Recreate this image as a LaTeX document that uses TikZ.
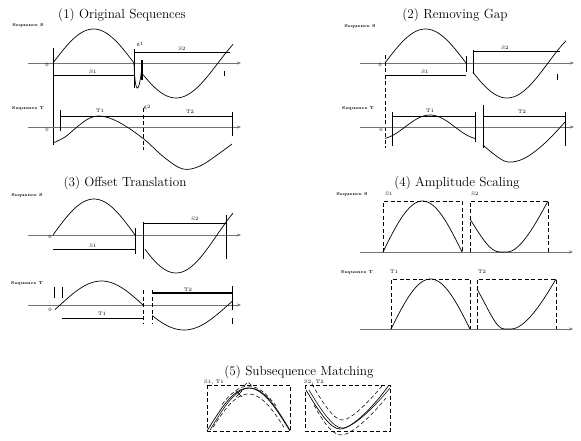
\documentclass[tikz,border=0pt]{standalone}
\usetikzlibrary{arrows.meta}
\begin{document}
\begin{tikzpicture}[x=1pt,y=-1pt,
 ax/.style={draw=black!55,line width=0.8pt,-{Stealth[length=4pt,width=3pt]}},
 crv/.style={draw=black,line width=0.7pt},
 thn/.style={draw=black,line width=0.55pt},
 thk/.style={draw=black,line width=1.1pt},
 dsh/.style={draw=black,line width=0.55pt,dash pattern=on 4pt off 2.5pt},
 ttl/.style={font=\fontsize{13.2}{15}\selectfont,inner sep=0pt},
 seq/.style={font=\fontsize{4.2}{5}\selectfont\bfseries,inner sep=0pt},
 lb/.style={font=\fontsize{5}{6}\selectfont,inner sep=0pt},
]
\useasboundingbox (0,0) rectangle (581,440);

% ---------- (1) Original Sequences ----------
\node[ttl] (t1) at (122,15) {(1) Original Sequences};
\node[seq] (p1s) at (28,25) {Sequence S};
\draw[ax] (28,63) -- (241,63);
\draw[thn] (53,48) -- (53,145);
\draw[crv] plot[domain=53:134,samples=40] (\x,{63-34*sin(((\x-53)/81)*180)});
\draw[thn] (134,49) -- (134,88);
\draw[thk] (142,60) -- (142,80);
\draw[crv] (134,63) .. controls (135,96) and (139,96) .. (142,66);
\draw[crv] plot[domain=143:233,samples=40] (\x,{63+35*sin(((\x-134)/84)*180)});
\draw[thn] (134,52) -- (230,52);
\draw[thn] (53,75) -- (134,75);
\draw[thn] (224,71) -- (224,76);
\node[lb] (p1s1) at (93,72) {S1};
\node[lb] (p1s2) at (182,49) {S2};
\node[lb] (p1g1) at (140,44) {g1};
\node[lb] (p1o) at (47,65) {0};

\node[seq] (p1t) at (28,108) {Sequence T};
\draw[ax] (28,127) -- (241,127);
\draw[crv] plot[smooth,tension=0.6] coordinates {(53,143) (65,137) (77,127) (88,119) (99,116) (112,119) (127,127) (145,140) (165,158) (183,169) (200,166) (217,155) (232,144)};
\draw[thn] (60,110) -- (60,131);
\draw[thn] (60,116) -- (232,116);
\draw[dsh] (143,108) -- (143,150);
\draw[thn] (232,112) -- (232,136);
\node[lb] (p1t1) at (100,111) {T1};
\node[lb] (p1t2) at (190,112) {T2};
\node[lb] (p1g2) at (147,107) {g2};
\node[lb] (p1o2) at (47,130) {0};

% ---------- (2) Removing Gap ----------
\node[ttl] (t2) at (455,15) {(2) Removing Gap};
\node[seq] (p2s) at (360,26) {Sequence S};
\draw[ax] (360,63) -- (574,63);
\draw[dsh] (385,55) -- (385,148);
\draw[crv] plot[domain=385:466,samples=40] (\x,{63-34*sin(((\x-385)/81)*180)});
\draw[thn] (466,56) -- (466,72);
\draw[thn] (473,50) -- (473,74);
\draw[crv] plot[domain=473:566,samples=40] (\x,{63+35*sin(((\x-466)/82)*180)});
\draw[thn] (473,51) -- (560,51);
\draw[thn] (385,75) -- (466,75);
\draw[thn] (557,74) -- (557,80);
\node[lb] (p2s1) at (425,72) {S1};
\node[lb] (p2s2) at (505,48) {S2};
\node[lb] (p2o) at (380,65) {0};

\node[seq] (p2t) at (358,108) {Sequence T};
\draw[ax] (360,127) -- (574,127);
\draw[crv] plot[domain=385:475,samples=40] (\x,{127-12*sin(((\x-405)/50)*180)});
\draw[thn] (392,112) -- (392,146);
\draw[thn] (475,112) -- (475,142);
\draw[thn] (483,105) -- (483,148);
\draw[thn] (565,112) -- (565,146);
\draw[crv] plot[smooth,tension=0.6] coordinates {(483,145) (495,155) (508,162) (525,158) (545,143) (565,122)};
\draw[thn] (392,116) -- (475,116);
\draw[thn] (483,116) -- (565,116);
\node[lb] (p2t1) at (430,111) {T1};
\node[lb] (p2t2) at (522,112) {T2};
\node[lb] (p2o2) at (381,130) {0};

% ---------- (3) Offset Translation ----------
\node[ttl] (t3) at (125,183) {(3) Offset Translation};
\node[seq] (p3s) at (27,195) {Sequence S};
\draw[ax] (28,235) -- (241,235);
\draw[crv] plot[domain=53:135,samples=40] (\x,{235-36*sin(((\x-53)/82)*180)});
\draw[thn] (135,228) -- (135,254);
\draw[thn] (143,222) -- (143,259);
\draw[thn] (226,215) -- (226,259);
\draw[crv] plot[domain=145:233,samples=40] (\x,{235+38*sin(((\x-135)/82)*180)});
\draw[thn] (143,223) -- (226,223);
\draw[thn] (53,249) -- (135,249);
\node[lb] (p3s1) at (93,246) {S1};
\node[lb] (p3s2) at (195,219) {S2};
\node[lb] (p3o) at (50,237) {0};

\node[seq] (p3t) at (27,283) {Sequence T};
\draw[ax] (28,305) -- (241,305);
\draw[crv] plot[domain=55:143,samples=40] (\x,{305-24*sin(((\x-60)/83)*180)});
\draw[thn] (54,287) -- (54,298);
\draw[thn] (62,287) -- (62,298);
\draw[dsh] (143,290) -- (143,323);
\draw[dsh] (152,290) -- (152,323);
\draw[thn] (232,286) -- (232,310);
\draw[thn] (232,318) -- (232,324);
\draw[thn] (62,318) -- (143,318);
\draw[thk] (152,293) -- (232,293);
\draw[crv] plot[domain=152:232,samples=40] (\x,{305+25*sin(((\x-140)/88)*180)});
\node[lb] (p3t1) at (102,314) {T1};
\node[lb] (p3t2) at (188,290) {T2};
\node[lb] (p3o2) at (50,310) {0};

% ---------- (4) Amplitude Scaling ----------
\node[ttl] (t4) at (457,183) {(4) Amplitude Scaling};
\node[seq] (p4s) at (352,194) {Sequence S};
\node[lb] (p4s1) at (389,194) {S1};
\node[lb] (p4s2) at (475,194) {S2};
\draw[ax] (360,252) -- (573,252);
\draw[dsh] (383,252) -- (383,201) -- (462,201) -- (462,252);
\draw[crv] plot[domain=383:462,samples=40] (\x,{252-51*sin(((\x-383)/79)*180)});
\draw[dsh] (470,252) -- (470,201) -- (548,201) -- (548,252);
\draw[crv] (470,219) .. controls (482,238) and (490,252) .. (500,252) -- (507,252) .. controls (520,252) and (535,225) .. (548,201);

\node[seq] (p4t) at (357,272) {Sequence T};
\node[lb] (p4t1) at (394,272) {T1};
\node[lb] (p4t2) at (482,272) {T2};
\draw[ax] (360,329) -- (573,329);
\draw[dsh] (391,329) -- (391,279) -- (470,279) -- (470,329);
\draw[crv] plot[domain=391:470,samples=40] (\x,{329-50*sin(((\x-391)/79)*180)});
\draw[dsh] (477,329) -- (477,279) -- (556,279) -- (556,329);
\draw[crv] (477,289) .. controls (488,308) and (496,329) .. (504,329) -- (511,329) .. controls (525,329) and (542,303) .. (556,279);

% ---------- (5) Subsequence Matching ----------
\node[ttl] (t5) at (299,372) {(5) Subsequence Matching};
\draw[dsh] (207,385) rectangle (290,431);
\node[lb,fill=white,inner sep=0.5pt] (p5a) at (214,382) {S1, T1};
\draw[crv] plot[domain=207:290,samples=40] (\x,{431-43*sin(((\x-207)/83)*180)});
\draw[thn] plot[domain=210:290,samples=40] (\x,{431-43*sin(((\x-209.5)/81)*180)});
\draw[dsh] plot[domain=213:284,samples=30] (\x,{437-43*sin(((\x-207)/83)*180)});
\draw[dsh] plot[domain=222:276,samples=20] (\x,{426-40*sin(((\x-207)/83)*180)});
\draw[dsh] (244,386) -- (248,382) -- (252,386);
\draw[thn] (236,391) -- (242,397);
\draw[thn] (236,397) -- (242,391);

\draw[dsh] (305,385) rectangle (390,431);
\node[lb,fill=white,inner sep=0.5pt] (p5b) at (314,382) {S2, T2};
\draw[crv] (306,390) .. controls (318,410) and (330,429) .. (340,429) .. controls (352,429) and (375,405) .. (389,385);
\draw[thn] (309,390) .. controls (321,410) and (333,428) .. (342,428) .. controls (354,428) and (377,404) .. (390,388);
\draw[dsh] (312,384) .. controls (322,402) and (334,420) .. (342,420) .. controls (352,420) and (370,400) .. (382,386);
\draw[dsh] (314,405) .. controls (322,420) and (332,435) .. (341,435) .. controls (352,435) and (372,415) .. (386,398);
\end{tikzpicture}
\end{document}
